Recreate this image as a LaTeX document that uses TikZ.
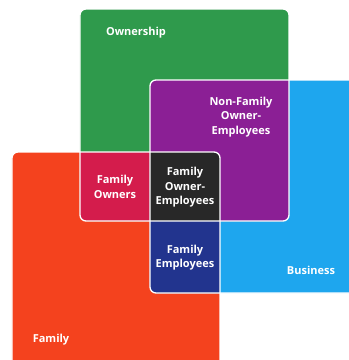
\documentclass[tikz,border=0pt]{standalone}
\usepackage{fontspec}
\setmainfont{Open Sans}
\definecolor{ownC}{HTML}{2F9A4C}
\definecolor{busC}{HTML}{1EA6EE}
\definecolor{famC}{HTML}{F4421E}
\definecolor{nfoeC}{HTML}{8B1F95}
\definecolor{foC}{HTML}{D41C4C}
\definecolor{feC}{HTML}{22348E}
\definecolor{foeC}{HTML}{282828}
\begin{document}
\begin{tikzpicture}[x=1pt,y=-1pt,
  ownpath/.style={insert path={(80,9) rectangle (289,221)}},
  buspath/.style={insert path={(150,80) rectangle (390,293)}},
  fampath/.style={insert path={(12,152) rectangle (220,390)}},
  rc/.style={rounded corners=6pt},
  edge/.style={draw=white,line width=1.3pt,rounded corners=6pt},
  lbl/.style={text=white,font=\bfseries\fontsize{11}{14.5}\selectfont,align=center,inner sep=0pt}]
\useasboundingbox (0,0) rectangle (349,360);
% base squares
\fill[famC,rc,fampath];
\fill[busC,rc,buspath];
\fill[ownC,rc,ownpath];
% overlaps
\begin{scope}
  \clip[rc,ownpath];
  \fill[nfoeC,rc,buspath];
  \fill[foC,rc,fampath];
\end{scope}
\begin{scope}
  \clip[rc,buspath];
  \fill[feC,rc,fampath];
  \clip[rc,ownpath];
  \fill[foeC,rc,fampath];
\end{scope}
% outlines
\path[edge,ownpath];
\path[edge,buspath];
\path[edge,fampath];
% labels
\node[lbl] (own) at (136,33) {Ownership};
\node[lbl] (nfoe) at (241,117) {Non-Family\\Owner-\\Employees};
\node[lbl] (fo) at (115,187) {Family\\Owners};
\node[lbl] (foe) at (185,187.5) {Family\\Owner-\\Employees};
\node[lbl] (fe) at (185,257.5) {Family\\Employees};
\node[lbl] (bus) at (311,270) {Business};
\node[lbl] (fam) at (51,340) {Family};
\end{tikzpicture}
\end{document}
